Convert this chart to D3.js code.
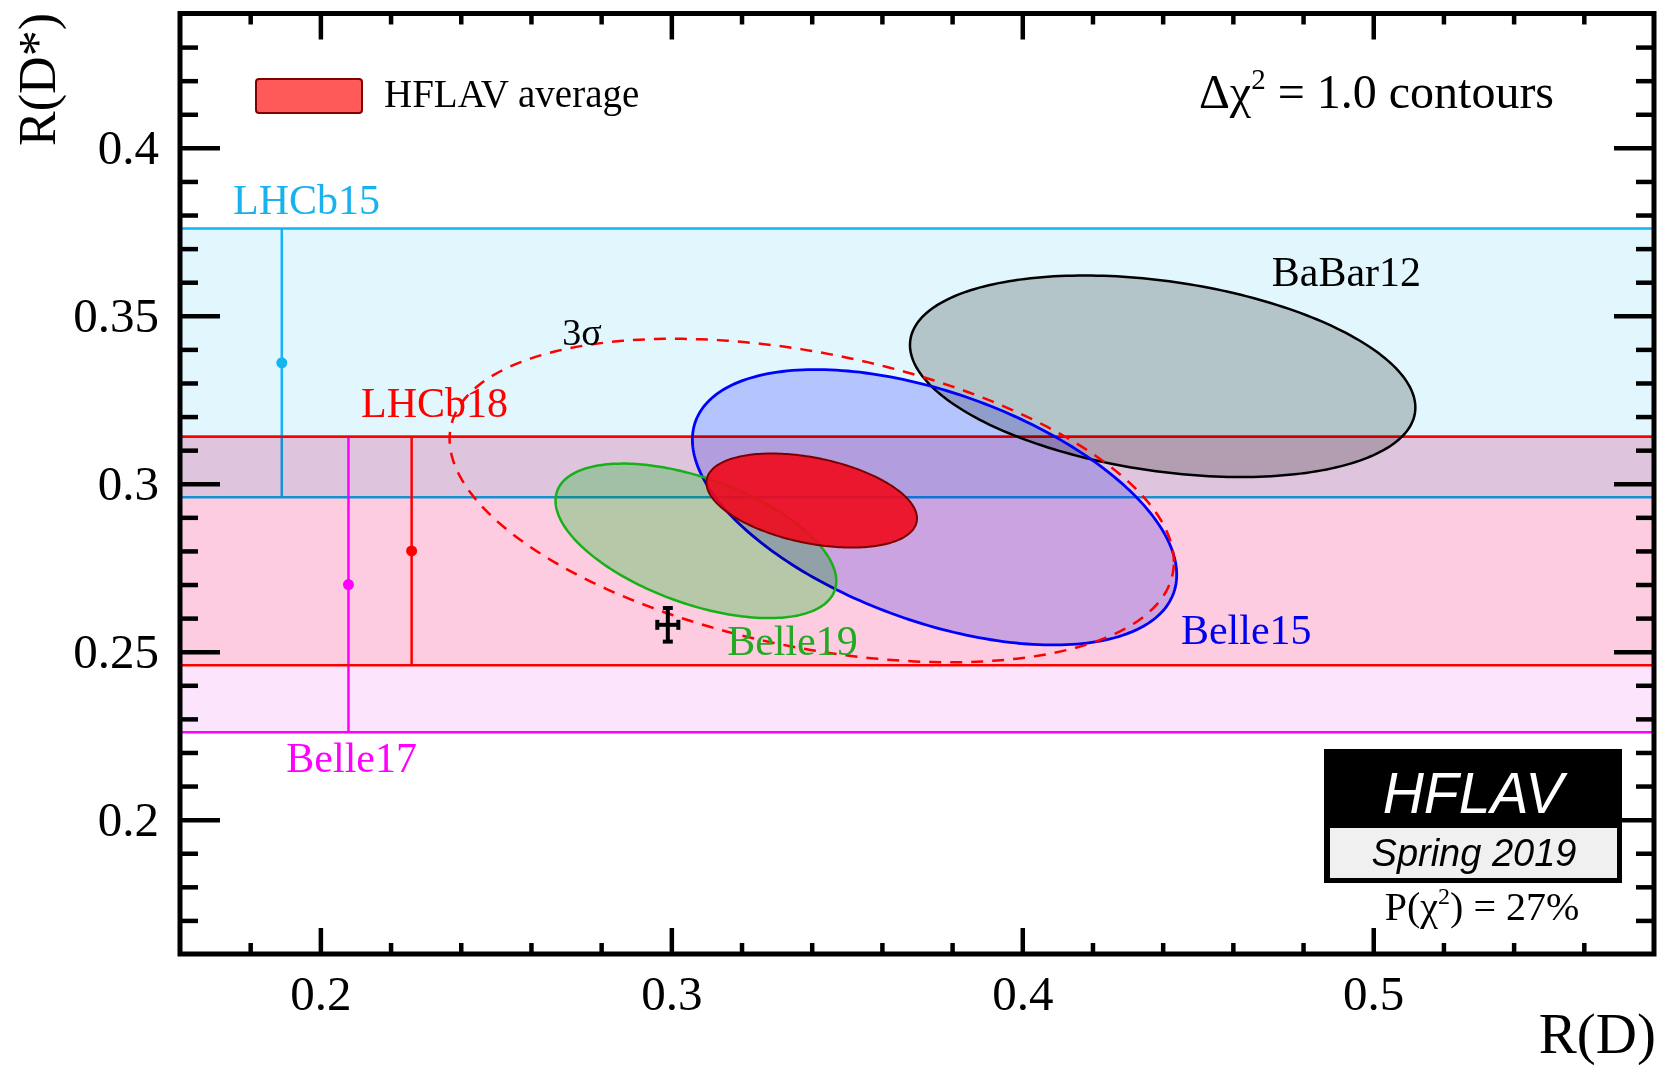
<!DOCTYPE html>
<html>
<head>
<meta charset="utf-8">
<script src="https://cdn.jsdelivr.net/npm/d3@7/dist/d3.min.js"></script>
<style>
  body { margin: 0; background: #fff; }
  svg text { font-family: "Liberation Serif", "Times New Roman", serif; }
</style>
</head>
<body>
<div class="chart"></div>
<script>
// R(D) vs R(D*) world average, HFLAV Spring 2019

var xTicks = [0.2, 0.3, 0.4, 0.5];
var yTicks = [0.2, 0.25, 0.3, 0.35, 0.4];
var xTickLabels = ['0.2', '0.3', '0.4', '0.5'];
var yTickLabels = ['0.2', '0.25', '0.3', '0.35', '0.4'];

// R(D*)-only measurements (horizontal bands)
var bandNames = ['LHCb15', 'LHCb18', 'Belle17'];
var bandX = [0.189, 0.226, 0.208];          // where the error bar sits
var bandValue = [0.336, 0.280, 0.270];
var bandErrUp = [0.040, 0.034, 0.044];
var bandErrDown = [0.040, 0.034, 0.044];

// 2D measurements: R(D), R(D*), total errors, correlation
var ellipseNames = ['BaBar12', 'Belle15', 'Belle19', 'HFLAV average'];
var ellipseRD = [0.440, 0.375, 0.307, 0.340];
var ellipseRDErr = [0.072, 0.069, 0.040, 0.030];
var ellipseRDs = [0.332, 0.293, 0.283, 0.295];
var ellipseRDsErr = [0.030, 0.041, 0.023, 0.014];
var ellipseCorr = [-0.31, -0.49, -0.52, -0.38];

// SM prediction: value, error
var smRD = [0.299, 0.003];
var smRDs = [0.258, 0.005];

// label anchors in data units
var labelText = ['LHCb15', 'LHCb18', 'Belle17', 'Belle19', 'Belle15', 'BaBar12', '3σ'];
var labelX = [0.1751, 0.2116, 0.1903, 0.3159, 0.4452, 0.4711, 0.2689];
var labelY = [0.3803, 0.3199, 0.2142, 0.2490, 0.2523, 0.3589, 0.3413];
var labelColor = ['#1ab2ee', '#ff0000', '#ff00ff', '#22aa22', '#0000ee', '#000', '#000'];

var margin = { top: 13.5, right: 10, bottom: 116, left: 180 };
var width = 1664 - margin.left - margin.right;
var height = 1070 - margin.top - margin.bottom;

var root = d3.select('.chart')
    .append('svg')
    .attr('width', 1664)
    .attr('height', 1070)
    .style('display', 'block');

root.append('rect').attr('width', 1664).attr('height', 1070).attr('fill', '#fff');

var svg = root.append('g')
    .attr('transform', `translate(${margin.left}, ${margin.top})`)
    .style('isolation', 'isolate');

var x = d3.scaleLinear().domain([0.16, 0.58]).range([0, width]);
var y = d3.scaleLinear().domain([0.16, 0.44]).range([height, 0]);

svg.append('clipPath').attr('id', 'clip')
    .append('rect').attr('width', width).attr('height', height);

var plot = svg.append('g').attr('clip-path', 'url(#clip)');

var bandFill = ['#e1f6fd', '#ffe4e2', '#fde4fd'];
var bandLine = ['#15b5f2', '#ff0000', '#ff00ff'];

function drawBandLines(i) {
    var top = bandValue[i] + bandErrUp[i], bot = bandValue[i] - bandErrDown[i];
    [top, bot].forEach(function (v) {
        plot.append('line')
            .attr('x1', 0).attr('x2', width)
            .attr('y1', y(v)).attr('y2', y(v))
            .attr('stroke', bandLine[i]).attr('stroke-width', 2.5);
    });
    plot.append('line')
        .attr('x1', x(bandX[i])).attr('x2', x(bandX[i]))
        .attr('y1', y(top)).attr('y2', y(bot))
        .attr('stroke', bandLine[i]).attr('stroke-width', 2.5);
    plot.append('circle')
        .attr('cx', x(bandX[i])).attr('cy', y(bandValue[i]))
        .attr('r', 5.5).attr('fill', bandLine[i]);
}

function drawBandFill(i) {
    var top = bandValue[i] + bandErrUp[i], bot = bandValue[i] - bandErrDown[i];
    plot.append('rect')
        .attr('x', 0).attr('width', width)
        .attr('y', y(top)).attr('height', y(bot) - y(top))
        .attr('fill', bandFill[i])
        .style('mix-blend-mode', 'multiply');
}

// LHCb15 first, then the other two bands lay over it
drawBandFill(0);
drawBandLines(0);
drawBandFill(1);
drawBandFill(2);
drawBandLines(2);
drawBandLines(1);

// contour of a correlated gaussian at given sqrt(delta chi2)
function contour(i, k) {
    var r = ellipseCorr[i], s = Math.sqrt(1 - r * r), pts = [];
    for (var j = 0; j < 240; j++) {
        var t = 2 * Math.PI * j / 240;
        pts.push([
            ellipseRD[i] + k * ellipseRDErr[i] * Math.cos(t),
            ellipseRDs[i] + k * ellipseRDsErr[i] * (r * Math.cos(t) + s * Math.sin(t))
        ]);
    }
    return pts;
}

var line = d3.line()
    .x(d => x(d[0]))
    .y(d => y(d[1]))
    .curve(d3.curveLinearClosed);

var ellFill = ['#cccccc', '#ccccff', '#b8fabf', '#f00a1e'];
var ellStroke = ['#000000', '#0000ff', '#18b018', '#7a0000'];
var ellWidth = [2.5, 2.8, 2.5, 2];

[0, 1, 2].forEach(function (i) {
    plot.append('path')
        .attr('d', line(contour(i, 1)))
        .attr('fill', ellFill[i])
        .style('mix-blend-mode', 'multiply');
    plot.append('path')
        .attr('d', line(contour(i, 1)))
        .attr('fill', 'none')
        .attr('stroke', ellStroke[i])
        .attr('stroke-width', ellWidth[i]);
});

// average
plot.append('path')
    .attr('d', line(contour(3, 1)))
    .attr('fill', ellFill[3])
    .attr('fill-opacity', 0.91)
    .attr('stroke', ellStroke[3])
    .attr('stroke-width', ellWidth[3]);

// 3 sigma contour (2 dof: delta chi2 = 11.83)
plot.append('path')
    .attr('d', line(contour(3, Math.sqrt(11.83))))
    .attr('fill', 'none')
    .attr('stroke', '#ff0000')
    .attr('stroke-width', 2.5)
    .attr('stroke-dasharray', '12 9');

// SM prediction
var sm = plot.append('g').attr('stroke', '#000').attr('stroke-width', 4);
sm.append('line')
    .attr('x1', x(smRD[0])).attr('x2', x(smRD[0]))
    .attr('y1', y(smRDs[0] + smRDs[1])).attr('y2', y(smRDs[0] - smRDs[1]));
sm.append('line')
    .attr('x1', x(smRD[0] - smRD[1])).attr('x2', x(smRD[0] + smRD[1]))
    .attr('y1', y(smRDs[0])).attr('y2', y(smRDs[0]));
[smRDs[0] + smRDs[1], smRDs[0] - smRDs[1]].forEach(function (v) {
    sm.append('line')
        .attr('x1', x(smRD[0]) - 5).attr('x2', x(smRD[0]) + 5)
        .attr('y1', y(v)).attr('y2', y(v));
});
[smRD[0] - smRD[1], smRD[0] + smRD[1]].forEach(function (v) {
    sm.append('line')
        .attr('x1', x(v)).attr('x2', x(v))
        .attr('y1', y(smRDs[0]) - 5).attr('y2', y(smRDs[0]) + 5);
});

// labels
labelText.forEach(function (t, i) {
    svg.append('text')
        .attr('x', x(labelX[i]))
        .attr('y', y(labelY[i]))
        .attr('fill', labelColor[i])
        .style('font-size', i == 6 ? '38px' : '42px')
        .text(t);
});

// axes, ROOT style: ticks inside on all four sides
var xMinor = d3.range(9, 29).map(i => i * 0.02).filter(v => xTicks.every(t => Math.abs(t - v) > 1e-6));
var yMinor = d3.range(17, 44).map(i => i / 100).filter(v => yTicks.every(t => Math.abs(t - v) > 1e-6));

function styleAxis(g) {
    g.select('.domain').remove();
    g.selectAll('line').attr('stroke-width', 4.5);
    g.selectAll('text')
        .attr('fill', '#000')
        .style('font-family', '"Liberation Serif", "Times New Roman", serif')
        .style('font-size', '49px');
}

svg.append('g').attr('transform', `translate(0, ${height})`)
    .call(d3.axisBottom(x).tickValues(xTicks).tickSize(-26).tickPadding(21)
        .tickFormat((d, i) => xTickLabels[i]))
    .call(styleAxis);
svg.append('g').attr('transform', `translate(0, ${height})`)
    .call(d3.axisBottom(x).tickValues(xMinor).tickSize(-11).tickFormat(''))
    .call(styleAxis);
svg.append('g')
    .call(d3.axisTop(x).tickValues(xTicks).tickSize(-26).tickFormat(''))
    .call(styleAxis);
svg.append('g')
    .call(d3.axisTop(x).tickValues(xMinor).tickSize(-11).tickFormat(''))
    .call(styleAxis);

svg.append('g')
    .call(d3.axisLeft(y).tickValues(yTicks).tickSize(-40).tickPadding(21)
        .tickFormat((d, i) => yTickLabels[i]))
    .call(styleAxis);
svg.append('g')
    .call(d3.axisLeft(y).tickValues(yMinor).tickSize(-18).tickFormat(''))
    .call(styleAxis);
svg.append('g').attr('transform', `translate(${width}, 0)`)
    .call(d3.axisRight(y).tickValues(yTicks).tickSize(-40).tickFormat(''))
    .call(styleAxis);
svg.append('g').attr('transform', `translate(${width}, 0)`)
    .call(d3.axisRight(y).tickValues(yMinor).tickSize(-18).tickFormat(''))
    .call(styleAxis);

svg.append('rect')
    .attr('width', width).attr('height', height)
    .attr('fill', 'none').attr('stroke', '#000').attr('stroke-width', 5);

// axis titles
root.append('text')
    .attr('transform', 'translate(55, 13) rotate(-90)')
    .attr('text-anchor', 'end')
    .style('font-size', '52px')
    .text('R(D*)');
root.append('text')
    .attr('x', 1656).attr('y', 1053)
    .attr('text-anchor', 'end')
    .style('font-size', '57px')
    .text('R(D)');

// legend
root.append('rect')
    .attr('x', 256).attr('y', 79).attr('width', 106).attr('height', 34).attr('rx', 3)
    .attr('fill', '#ff5a5a').attr('stroke', '#800000').attr('stroke-width', 2);
root.append('text')
    .attr('x', 384).attr('y', 107)
    .style('font-size', '39px')
    .text(ellipseNames[3]);

var chi = root.append('text')
    .attr('x', 1199).attr('y', 108)
    .style('font-size', '48px');
chi.append('tspan').text('Δχ');
chi.append('tspan').attr('dy', -19).style('font-size', '29px').text('2');
chi.append('tspan').attr('dy', 19).text(' = 1.0 contours');

// HFLAV logo
root.append('rect').attr('x', 1324).attr('y', 749).attr('width', 298).attr('height', 134).attr('fill', '#000');
root.append('rect').attr('x', 1330).attr('y', 828).attr('width', 287).attr('height', 50).attr('fill', '#f0f0f0');
root.append('text')
    .attr('x', 1473).attr('y', 813)
    .attr('text-anchor', 'middle')
    .attr('fill', '#fff')
    .style('font-family', '"Liberation Sans", Arial, sans-serif')
    .style('font-style', 'italic')
    .style('font-size', '57px')
    .text('HFLAV');
root.append('text')
    .attr('x', 1474).attr('y', 866)
    .attr('text-anchor', 'middle')
    .style('font-family', '"Liberation Sans", Arial, sans-serif')
    .style('font-style', 'italic')
    .style('font-size', '38px')
    .text('Spring 2019');

var p = root.append('text')
    .attr('x', 1482).attr('y', 920)
    .attr('text-anchor', 'middle')
    .style('font-size', '40px');
p.append('tspan').text('P(χ');
p.append('tspan').attr('dy', -16).style('font-size', '24px').text('2');
p.append('tspan').attr('dy', 16).text(') = 27%');
</script>
</body>
</html>
